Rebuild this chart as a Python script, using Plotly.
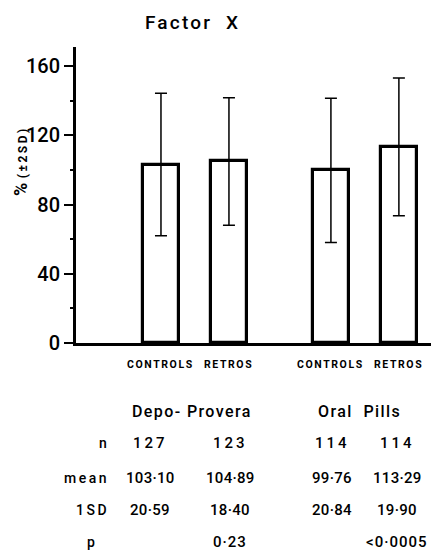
import plotly.graph_objects as go

# ---- data ----
groups = ["Depo- Provera", "Oral&nbsp; Pills"]
categories = ["CONTROLS", "RETROS", "CONTROLS", "RETROS"]
n_vals = [127, 123, 114, 114]
means = [103.10, 104.89, 99.76, 113.29]
sds = [20.59, 18.40, 20.84, 19.90]
p_vals = ["", "0·23", "", "<0·0005"]
y_ticks = [0, 40, 80, 120, 160]

# ---- layout helpers (page pixel coordinates; page body has an 8px offset) ----
OFF = 8
PAGE_W, PAGE_H = 439, 551
PL, PT, PR, PB = 76, 47, 439, 343      # plot area in page pixels
W, H = PAGE_W - OFF, PAGE_H - OFF
PW, PH = PR - PL, PB - PT


def px(xp):
    return (xp - PL) / PW


def py(yp):
    return (PB - yp) / PH


# bar positions: two groups of two, with a gap between groups
xpos = [1 + (i // 2) * 2.5 + (i % 2) for i in range(len(categories))]
err = [2 * s for s in sds]

fig = go.Figure()
fig.add_trace(go.Bar(
    x=xpos, y=means, width=0.53,
    marker=dict(color="white", line=dict(color="black", width=3.2)),
    error_y=dict(type="data", array=err, visible=True, color="black",
                 thickness=1.5, width=6),
    hoverinfo="skip", showlegend=False,
))

FONT = "Roboto"


def sp(text, ls):
    return f"<span style='letter-spacing:{ls}px'>{text}</span>"


ann = []


def add(text, xp, yp, size, xanchor="center", weight="bold", xref="paper", xval=None, angle=0):
    ann.append(dict(text=text, x=(px(xp) if xval is None else xval), y=py(yp),
                    xref=xref, yref="paper", showarrow=False,
                    xanchor=xanchor, yanchor="middle", textangle=angle,
                    font=dict(family=FONT, size=size, color="black", weight=weight)))


# title
add(sp("Factor&nbsp; X", 2.2), 192, 22, 19, weight=500)
# y title
add("% <span style='font-size:12px;letter-spacing:2.5px'>(±2SD)</span>", 20, 161, 18, angle=-90)
# category labels
for xp, c in zip(xpos, categories):
    add(sp(c, 1.6), None, 364, 10.5, xref="x", xval=xp)
# group names
for gx, g in zip([192, 359], groups):
    add(sp(g, 1.4), gx, 411, 16, weight=500)

# table
col_x = [150, 230, 332, 397]
rows = [
    ("n", [str(v) for v in n_vals], 443, 3.0),
    ("mean", [f"{m:.2f}".replace(".", "·") for m in means], 478, 0.3),
    ("1SD", [f"{s:.2f}".replace(".", "·") for s in sds], 510, 0.3),
    ("p", p_vals, 542, 1.0),
]
for label, vals, yp, ls in rows:
    if label == "p":
        add(label, 91, yp, 14, xanchor="center", weight=500)
    else:
        add(sp(label, 2.5), 111, yp, 14, xanchor="right", weight=500)
    for cx, v in zip(col_x, vals):
        if v:
            add(sp(v, ls), cx, yp, 15, weight=500)

fig.update_layout(
    width=W, height=H,
    margin=dict(l=PL - OFF, r=W - (PR - OFF), t=PT - OFF, b=H - (PB - OFF), pad=0),
    paper_bgcolor="white", plot_bgcolor="white",
    annotations=ann,
    xaxis=dict(range=[-0.25, 5.09], showgrid=False, zeroline=False, showticklabels=False,
               ticks="", showline=True, linecolor="black", linewidth=3, fixedrange=True),
    yaxis=dict(range=[0, 171], tickvals=y_ticks, showgrid=False, zeroline=False,
               ticks="outside", ticklen=9, tickwidth=2, tickcolor="black",
               showline=True, linecolor="black", linewidth=3,
               tickfont=dict(family=FONT, size=20, color="black", weight=500),
               minor=dict(dtick=20, ticks="outside", ticklen=3, tickwidth=2, tickcolor="black"),
               fixedrange=True),
    bargap=0,
)

fig.write_html("out.html")
